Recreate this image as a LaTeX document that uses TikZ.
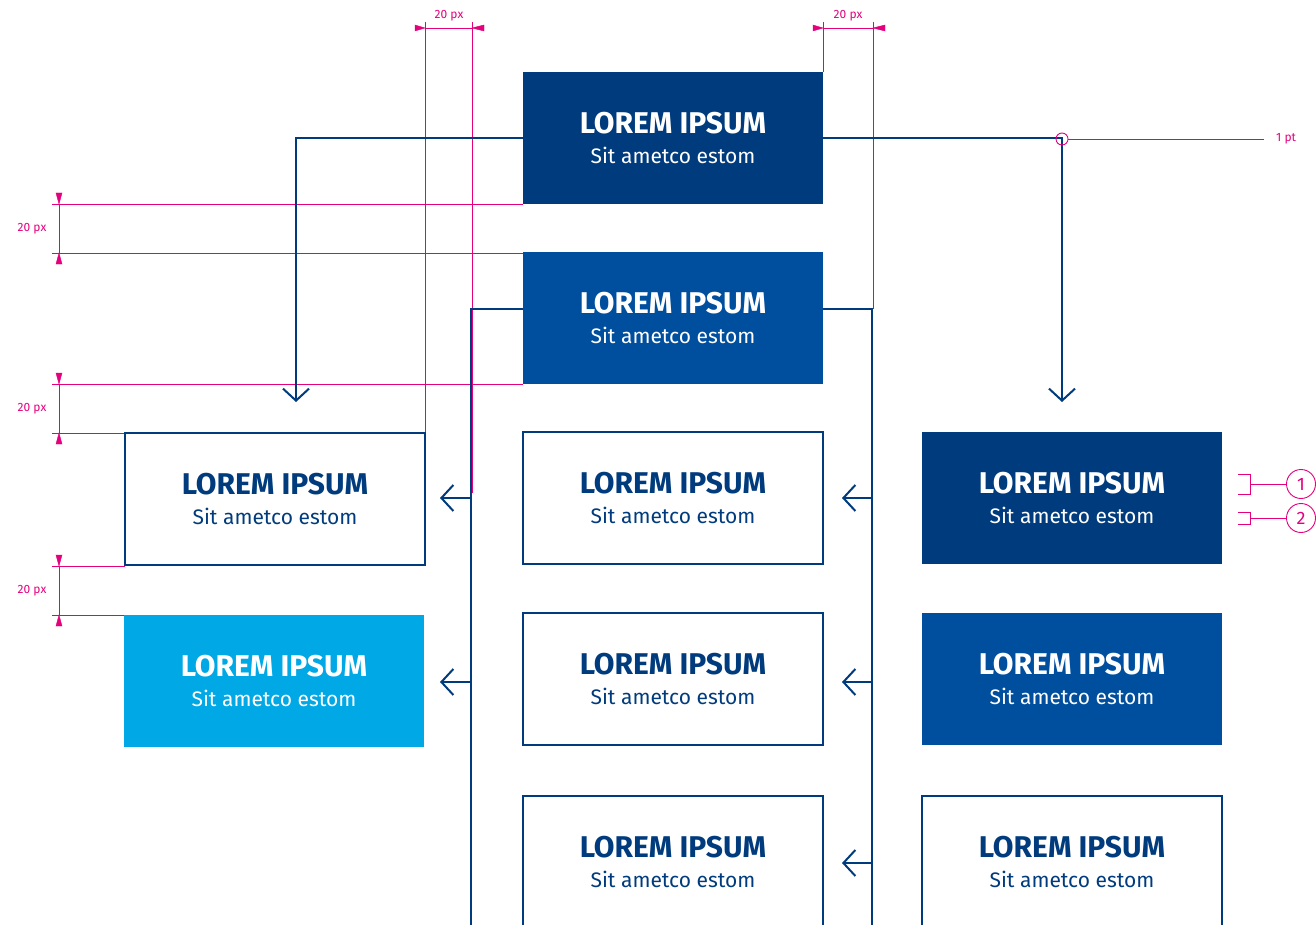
\documentclass[tikz,border=0pt]{standalone}
\usepackage{fontspec}
\setmainfont{Fira Sans}
\usetikzlibrary{arrows.meta}
\definecolor{navy}{HTML}{003C7D}
\definecolor{midblue}{HTML}{004F9E}
\definecolor{cyanbox}{HTML}{00A8E6}
\definecolor{mag}{HTML}{E5007E}
\tikzset{
  box/.style={minimum width=300pt, minimum height=132pt, inner sep=0pt, outer sep=0pt, align=center, anchor=north west},
  filledbox/.style={box, fill=#1, text=white},
  outbox/.style={box, draw=navy, line width=2pt, text=navy},
  conn/.style={draw=navy, line width=2pt},
  arr/.style={conn, -{Straight Barb[length=12pt,width=26pt,line width=2pt]}},
  dim/.style={draw=mag, line width=0.9pt},
  dimlbl/.style={text=mag, font=\fontsize{12}{13}\selectfont, inner sep=0pt},
}
\newcommand{\boxtext}{{\fontsize{30}{30}\selectfont\bfseries LOREM IPSUM}\\[13pt]{\fontsize{21}{22}\selectfont Sit ametco estom}}
\begin{document}
\begin{tikzpicture}[x=1pt,y=-1pt]
\clip (0,0) rectangle (1316,925);
\fill[white] (0,0) rectangle (1316,925);
% magenta guide lines (behind)
\draw[dim] (425,22) -- (425,493);
\draw[dim] (472,22) -- (472,493);
\draw[dim] (823,22) -- (823,72);
\draw[dim] (873,22) -- (873,309);
\draw[dim] (52,204) -- (523,204);
\draw[dim] (52,253) -- (523,253);
\draw[dim] (52,384) -- (523,384);
\draw[dim] (52,433) -- (125,433);
\draw[dim] (52,566) -- (125,566);
\draw[dim] (52,615) -- (125,615);
% boxes
\node[filledbox=navy] (t1) at (523,72) {\boxtext};
\node[filledbox=midblue] (t2) at (523,252) {\boxtext};
\node[outbox] (l1) at (125,433) {\boxtext};
\node[filledbox=cyanbox] (l2) at (124,615) {\boxtext};
\node[outbox] (m1) at (523,432) {\boxtext};
\node[outbox] (m2) at (523,613) {\boxtext};
\node[outbox] (m3) at (523,796) {\boxtext};
\node[filledbox=navy] (r1) at (922,432) {\boxtext};
\node[filledbox=midblue] (r2) at (922,613) {\boxtext};
\node[outbox] (r3) at (922,796) {\boxtext};
% connectors
\coordinate (la) at (296,402);
\coordinate (ra) at (1062,402);
\draw[arr] (t1.west |- 0,138) -| (la);
\draw[arr] (t1.east |- 0,138) -| (ra);
\coordinate (lt) at (471,309);
\coordinate (lb) at (471,930);
\coordinate (rt) at (872,309);
\coordinate (rb) at (872,930);
\draw[conn] (t2.west |- lt) -- (lt) -- (lb);
\draw[conn] (t2.east |- rt) -- (rt) -- (rb);
\coordinate (a1) at (440,498);
\coordinate (a2) at (440,682);
\coordinate (a3) at (842,498);
\coordinate (a4) at (842,682);
\coordinate (a5) at (842,863);
\draw[arr] (lt |- a1) -- (a1);
\draw[arr] (lt |- a2) -- (a2);
\draw[arr] (rt |- a3) -- (a3);
\draw[arr] (rt |- a4) -- (a4);
\draw[arr] (rt |- a5) -- (a5);
% dimensions
\draw[dim] (425,28) -- (472,28);
\draw[mag, fill=mag] (415,25) -- (425,28) -- (415,31) -- cycle;
\draw[mag, fill=mag] (484,25) -- (472,28) -- (484,31) -- cycle;
\node[dimlbl] (d1) at (449,16) {20 px};
\draw[dim] (823,28) -- (873,28);
\draw[mag, fill=mag] (813,25) -- (823,28) -- (813,31) -- cycle;
\draw[mag, fill=mag] (885,25) -- (873,28) -- (885,31) -- cycle;
\node[dimlbl] (d2) at (848,16) {20 px};
\foreach \ya/\yb/\n in {204/253/d3, 384/433/d4, 566/615/d5}{
  \draw[dim] (59,\ya) -- (59,\yb);
  \draw[mag, fill=mag] (56,\ya-11) -- (59,\ya) -- (62,\ya-11) -- cycle;
  \draw[mag, fill=mag] (56,\yb+11) -- (59,\yb) -- (62,\yb+11) -- cycle;
  \node[dimlbl] (\n) at (32,{(\ya+\yb)/2}) {20 px};
}
% 1 pt annotation
\node[draw=mag, circle, line width=0.9pt, minimum size=12pt, inner sep=0pt] (c0) at (1062,139) {};
\node[dimlbl, anchor=west] (pt) at (1276,139) {1 pt};
\draw[dim] (c0.east) -- (1264,139);
% numbered callouts
\node[draw=mag, circle, line width=0.9pt, minimum size=29pt, inner sep=0pt, text=mag, font=\fontsize{18}{18}\selectfont] (n1) at (1301,484) {1};
\node[draw=mag, circle, line width=0.9pt, minimum size=29pt, inner sep=0pt, text=mag, font=\fontsize{18}{18}\selectfont] (n2) at (1301,518) {2};
\draw[dim] (1238,474) -- (1250,474) -- (1250,494) -- (1238,494);
\draw[dim] (1250,484) -- (n1.west);
\draw[dim] (1238,512) -- (1250,512) -- (1250,524) -- (1238,524);
\draw[dim] (1250,518) -- (n2.west);
\end{tikzpicture}
\end{document}
